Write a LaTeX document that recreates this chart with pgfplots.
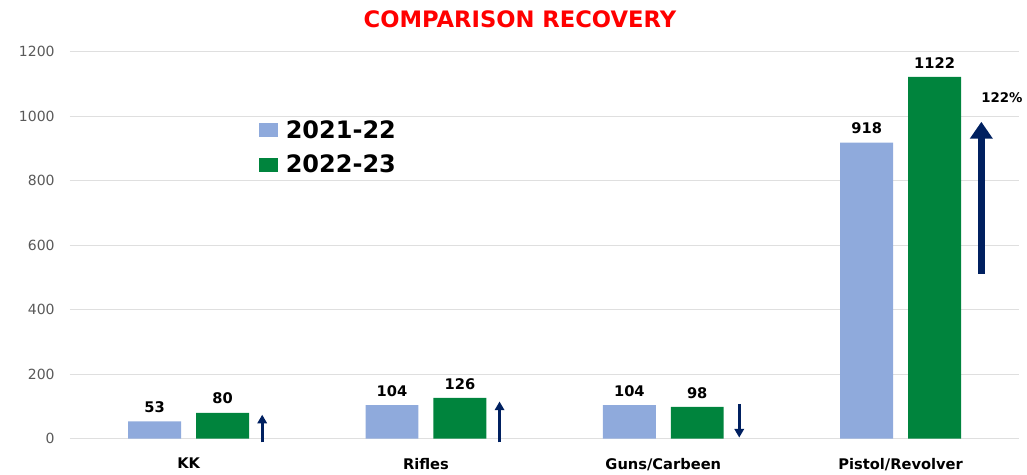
\documentclass[border=0pt]{standalone}
\usepackage{fontspec}
\setmainfont{DejaVu Sans}
\usepackage{pgfplots}
\pgfplotsset{compat=1.18}
\usetikzlibrary{arrows.meta}
\definecolor{bluebar}{HTML}{8FAADC}
\definecolor{greenbar}{HTML}{00843D}
\definecolor{navyarrow}{HTML}{002060}
\definecolor{tickgray}{HTML}{595959}
\begin{document}
\begin{tikzpicture}
\begin{axis}[
    scale only axis,
    width=712.5pt, height=290.25pt,
    xmin=-0.5, xmax=3.5, ymin=0, ymax=1200,
    ybar, bar width=0.223,
    clip=false,
    axis line style={draw=none},
    major tick length=0pt,
    ytick={0,200,...,1200},
    ymajorgrids=true,
    grid style={draw=gray!25, line width=0.8pt},
    xtick={0,1,2,3},
    xticklabels={KK,Rifles,Guns/Carbeen,Pistol/Revolver},
    xticklabel style={font=\bfseries\fontsize{11}{13}\selectfont, yshift=-11pt},
    yticklabel style={font=\fontsize{10.5}{12}\selectfont, text=tickgray, xshift=-8pt},
    /pgf/number format/assume math mode=true,
    /pgf/number format/1000 sep={},
    nodes near coords,
    nodes near coords style={font=\bfseries\fontsize{11}{13}\selectfont, text=black, yshift=3pt},
    legend style={at={(rel axis cs:0.199,0.83)}, anchor=north west, draw=none, fill=none,
        inner sep=0pt, row sep=7pt, font=\bfseries\fontsize{18}{21}\selectfont},
    legend cell align=left,
    legend image code/.code={\fill[#1] (0pt,-5.25pt) rectangle (14pt,5.25pt); \path (0pt,0pt) (18pt,0pt);},
]
\addplot[fill=bluebar, draw=none, bar shift=-0.143] coordinates {(0,53) (1,104) (2,104) (3,918)};
\addlegendentry{2021-22}
\addplot[fill=greenbar, draw=none, bar shift=0.143] coordinates {(0,80) (1,126) (2,98) (3,1122)};
\addlegendentry{2022-23}

% trend arrows
\draw[navyarrow, line width=2.3pt, -{Triangle[width=7pt,length=6.5pt]}] (axis cs:0.31,-12) -- (axis cs:0.31,74);
\draw[navyarrow, line width=2.3pt, -{Triangle[width=7pt,length=6.5pt]}] (axis cs:1.31,-12) -- (axis cs:1.31,115);
\draw[navyarrow, line width=2.3pt, -{Triangle[width=7pt,length=6.5pt]}] (axis cs:2.32,108) -- (axis cs:2.32,3);
\draw[navyarrow, line width=5pt, -{Triangle[width=16.5pt,length=12.75pt]}] (axis cs:3.34,512) -- (axis cs:3.34,983);
\node[font=\bfseries\fontsize{10}{12}\selectfont] at (axis cs:3.427,1057) {122\%};

\node[font=\bfseries\fontsize{17}{20}\selectfont, text=red] at (rel axis cs:0.474,1.083) {COMPARISON RECOVERY};

% page extent
\path (rel axis cs:-0.0737,-0.0904) (rel axis cs:1.0074,1.134);
\end{axis}
\end{tikzpicture}
\end{document}
